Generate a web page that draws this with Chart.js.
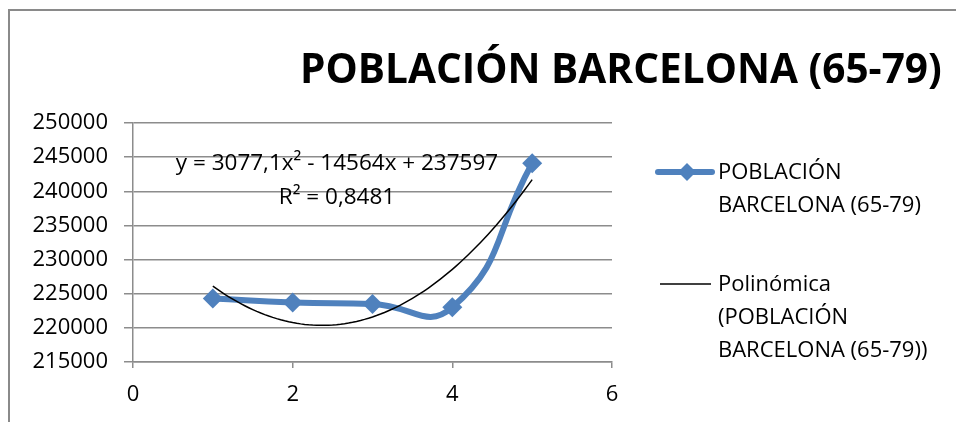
<!DOCTYPE html>
<html>
<head>
<meta charset="utf-8">
<script src="https://cdn.jsdelivr.net/npm/chart.js@4/dist/chart.umd.min.js"></script>
<style>
  html, body { margin: 0; padding: 0; background: #fff; }
  #wrap { position: relative; width: 956px; height: 422px; }
</style>
</head>
<body>
<div id="wrap"><canvas id="chart" width="956" height="422"></canvas></div>
<script>
// Población de Barcelona entre 65 y 79 años
const years = [1, 2, 3, 4, 5];
const poblacion = [224300, 223700, 223500, 223000, 244100];

// Línea de tendencia polinómica de grado 2: c0 + c1·x + c2·x²
const trendCoefs = [237597, -14564, 3077.1];
const trendLabel = ['y = 3077,1x\u00B2 - 14564x + 237597', 'R\u00B2 = 0,8481'];

// Ejes
const yRange = [215000, 250000, 5000];
const xRange = [0, 6, 2];

const titleText = 'POBLACIÓN BARCELONA (65-79)';
const legendSerie = ['POBLACIÓN', 'BARCELONA (65-79)'];
const legendTrend = ['Polinómica', '(POBLACIÓN', 'BARCELONA (65-79))'];

const BLUE = '#4F81BD';
const GRID = '#8c8c8c';
const FONT = '"Open Sans", "Liberation Sans", sans-serif';

// Puntos de la curva de tendencia, evaluados desde los coeficientes
const trendPoints = [];
for (let i = 0; i <= 80; i++) {
  const x = years[0] + (years[years.length - 1] - years[0]) * i / 80;
  trendPoints.push({ x, y: trendCoefs[0] + trendCoefs[1] * x + trendCoefs[2] * x * x });
}

const seriePoints = years.map((x, i) => ({ x, y: poblacion[i] }));

// Marco, título, ecuación y leyenda dibujados sobre el lienzo
const decorations = {
  id: 'decorations',
  beforeDraw(chart) {
    const ctx = chart.ctx;
    ctx.save();
    ctx.fillStyle = '#fff';
    ctx.fillRect(0, 0, chart.width, chart.height);
    ctx.strokeStyle = '#8a8a8a';
    ctx.lineWidth = 2;
    ctx.beginPath();
    ctx.moveTo(9, chart.height);
    ctx.lineTo(9, 10);
    ctx.lineTo(chart.width, 10);
    ctx.stroke();
    ctx.restore();
  },
  afterDraw(chart) {
    const ctx = chart.ctx;
    const area = chart.chartArea;
    ctx.save();
    ctx.fillStyle = '#000';

    // Título ajustado a su ancho
    ctx.font = 'bold 40px ' + FONT;
    const w = ctx.measureText(titleText).width;
    const size = 40 * 642 / w;
    ctx.font = 'bold ' + size.toFixed(2) + 'px ' + FONT;
    ctx.textAlign = 'left';
    ctx.textBaseline = 'middle';
    ctx.fillText(titleText, 300, 71);

    // Ecuación de la tendencia
    ctx.font = '22.5px ' + FONT;
    ctx.textAlign = 'center';
    const cx = area.left + 204;
    ctx.fillText(trendLabel[0], cx, area.top + 41);
    ctx.fillText(trendLabel[1], cx, area.top + 75);

    // Leyenda
    const lx = area.right + 46;
    const tx = lx + 60;
    ctx.font = '22px ' + FONT;
    ctx.textAlign = 'left';
    ctx.strokeStyle = BLUE;
    ctx.lineWidth = 6;
    ctx.lineCap = 'round';
    ctx.beginPath();
    ctx.moveTo(lx, 172);
    ctx.lineTo(lx + 54, 172);
    ctx.stroke();
    ctx.fillStyle = BLUE;
    ctx.beginPath();
    ctx.moveTo(lx + 29, 163);
    ctx.lineTo(lx + 38, 172);
    ctx.lineTo(lx + 29, 181);
    ctx.lineTo(lx + 20, 172);
    ctx.closePath();
    ctx.fill();
    ctx.fillStyle = '#000';
    legendSerie.forEach((t, i) => ctx.fillText(t, tx, 173 + i * 33));

    ctx.strokeStyle = '#000';
    ctx.lineWidth = 1.5;
    ctx.lineCap = 'butt';
    ctx.beginPath();
    ctx.moveTo(lx + 2, 284);
    ctx.lineTo(lx + 53, 284);
    ctx.stroke();
    legendTrend.forEach((t, i) => ctx.fillText(t, tx, 285 + i * 33));
    ctx.restore();
  }
};

new Chart(document.getElementById('chart'), {
  type: 'scatter',
  data: {
    datasets: [
      {
        label: legendSerie.join(' '),
        data: seriePoints,
        showLine: true,
        borderColor: BLUE,
        backgroundColor: BLUE,
        borderWidth: 6,
        tension: 0.5,
        pointStyle: 'rectRot',
        pointRadius: 10,
        pointHoverRadius: 10,
        pointBorderWidth: 0,
        order: 1
      },
      {
        label: legendTrend.join(' '),
        data: trendPoints,
        showLine: true,
        borderColor: '#000',
        borderWidth: 1.5,
        pointRadius: 0,
        tension: 0,
        order: 0
      }
    ]
  },
  options: {
    responsive: false,
    animation: false,
    layout: { padding: { left: 0, top: 123, right: 344, bottom: 10 } },
    plugins: {
      legend: { display: false },
      title: { display: false },
      tooltip: { enabled: false }
    },
    scales: {
      x: {
        type: 'linear',
        min: xRange[0],
        max: xRange[1],
        ticks: { stepSize: xRange[2], color: '#000', padding: 14, font: { family: FONT, size: 22 },
                 callback: v => String(v) },
        grid: { drawOnChartArea: false, drawTicks: true, tickLength: 6, color: GRID, lineWidth: 1.5 },
        border: { color: GRID, width: 1.5 },
        afterFit(scale) { scale.height = 50; }
      },
      y: {
        type: 'linear',
        min: yRange[0],
        max: yRange[1],
        ticks: { stepSize: yRange[2], color: '#000', padding: 16, font: { family: FONT, size: 22 },
                 callback: v => String(v) },
        grid: { drawTicks: true, tickLength: 9, color: GRID, lineWidth: 1.5 },
        border: { color: GRID, width: 1.5 },
        afterFit(scale) { scale.width = 133; }
      }
    }
  },
  plugins: [decorations]
});
</script>
</body>
</html>
